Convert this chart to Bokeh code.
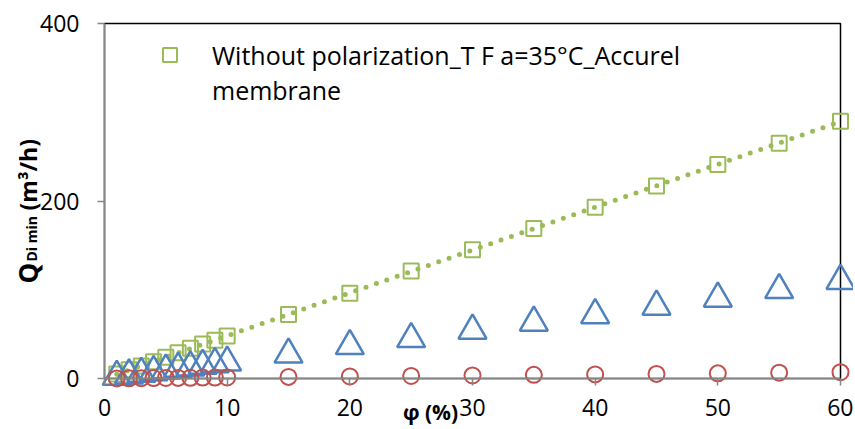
import numpy as np
from bokeh.plotting import figure
from bokeh.models import Range1d, FixedTicker, Label, Legend, LegendItem, BoxAnnotation
from bokeh.embed import file_html
from bokeh.resources import INLINE

# ---- data ----
phi = [1, 2, 3, 4, 5, 6, 7, 8, 9, 10, 15, 20, 25, 30, 35, 40, 45, 50, 55, 60]
q_without_pol = [5, 10, 14, 19, 24, 29, 34, 39, 43, 48, 72, 96, 121, 145, 169, 193, 217, 241, 265, 290]
q_triangle = [2, 3.6, 5.4, 7.2, 9, 11, 12.6, 14.4, 16.2, 18, 27, 36.6, 44.5, 54, 63, 71.5, 81, 90, 99.7, 110]
q_circle = [0.1, 0.2, 0.4, 0.5, 0.6, 0.7, 0.8, 1.0, 1.1, 1.2, 1.8, 2.3, 2.9, 3.4, 4.1, 4.6, 5.2, 5.8, 6.5, 7.1]
x_ticks = [0, 10, 20, 30, 40, 50, 60]
y_ticks = [0, 200, 400]
legend_line1 = "Without polarization_T F a=35°C_Accurel"
legend_line2 = "membrane"

green = "#9BBB59"
blue = "#4F81BD"
red = "#C0504D"
gray = "#868686"
FONT = "Open Sans"

W, H = 853, 428
# pixel mapping: x=0 -> 104px, x=60 -> 840px ; y=400 -> 23px, y=0 -> 378px
sx = (840 - 104) / 60.0
sy = (378 - 23) / 400.0
x_range = Range1d(-104 / sx, (W - 104) / sx)
y_range = Range1d((378 - H) / sy, 378 / sy)

p = figure(width=W, height=H, x_range=x_range, y_range=y_range,
           output_backend="svg", toolbar_location=None,
           min_border_left=0, min_border_right=0, min_border_top=0, min_border_bottom=0)
p.grid.visible = False
p.outline_line_color = None
p.background_fill_color = "white"
p.border_fill_color = "white"

# plot-area border (top / right black lines)
p.add_layout(BoxAnnotation(left=0, right=60, bottom=0, top=400, fill_color=None, fill_alpha=0,
                           line_color="black", line_alpha=1.0, line_width=1.5, level="underlay"))

# axes
p.xaxis.ticker = FixedTicker(ticks=x_ticks)
p.yaxis.ticker = FixedTicker(ticks=y_ticks)
p.xaxis.fixed_location = 0
p.yaxis.fixed_location = 0
p.xaxis.bounds = (0, 60)
p.yaxis.bounds = (0, 400)
for ax in (p.xaxis[0], p.yaxis[0]):
    ax.axis_line_color = gray
    ax.axis_line_width = 1.5
    ax.major_tick_line_color = gray
    ax.major_tick_line_width = 1.5
    ax.major_tick_in = 0
    ax.major_tick_out = 7
    ax.minor_tick_line_color = None
    ax.major_label_text_font = FONT
    ax.major_label_text_font_size = "23px"
    ax.major_label_text_color = "black"
p.xaxis.major_label_standoff = 13
p.yaxis.major_label_standoff = 18

# series
r_sq = p.scatter(phi, q_without_pol, marker="square", size=15, line_color=green,
                 fill_color=None, line_width=2)
k, b = np.polyfit(phi, q_without_pol, 1)
xt = [min(phi), max(phi)]
p.line(xt, [k * x + b for x in xt], line_color=green, line_width=5,
       line_dash="0 11", line_cap="round")
p.scatter(phi, q_triangle, marker="triangle", size=28, line_color=blue,
          fill_color=None, line_width=2.5)
p.scatter(phi, q_circle, marker="circle", size=16, line_color=red,
          fill_color=None, line_width=2)
# invisible placeholder renderer for the wrapped second legend line
r_blank = p.scatter(x=[], y=[], marker="square", fill_alpha=0, line_alpha=0)

legend = Legend(items=[LegendItem(label=legend_line1, renderers=[r_sq]),
                       LegendItem(label=legend_line2, renderers=[r_blank])],
                location=(152, H - 107), margin=0, padding=0, spacing=0,
                glyph_width=35, glyph_height=35, label_standoff=25,
                label_text_font=FONT, label_text_font_size="25px", label_text_color="black",
                background_fill_alpha=0, border_line_color=None)
p.add_layout(legend)

# axis titles
p.add_layout(Label(x=(430 - 104) / sx, y=(378 - 411) / sy, text="φ (%)", text_font=FONT,
                   text_font_size="21px", text_font_style="bold", text_color="black",
                   text_align="center", text_baseline="middle"))
p.add_layout(Label(x=(27 - 104) / sx, y=(378 - 283) / sy, text="Q", angle=np.pi / 2,
                   text_font=FONT, text_font_size="26px", text_font_style="bold",
                   text_color="black", text_align="left", text_baseline="alphabetic"))
p.add_layout(Label(x=(31 - 104) / sx, y=(378 - 261) / sy, text="Di min", angle=np.pi / 2,
                   text_font=FONT, text_font_size="14px", text_font_style="bold",
                   text_color="black", text_align="left", text_baseline="alphabetic"))
p.add_layout(Label(x=(27 - 104) / sx, y=(378 - 210) / sy, text="(m³/h)", angle=np.pi / 2,
                   text_font=FONT, text_font_size="23px", text_font_style="bold",
                   text_color="black", text_align="left", text_baseline="alphabetic"))

open("out.html", "w").write(file_html(p, INLINE))
